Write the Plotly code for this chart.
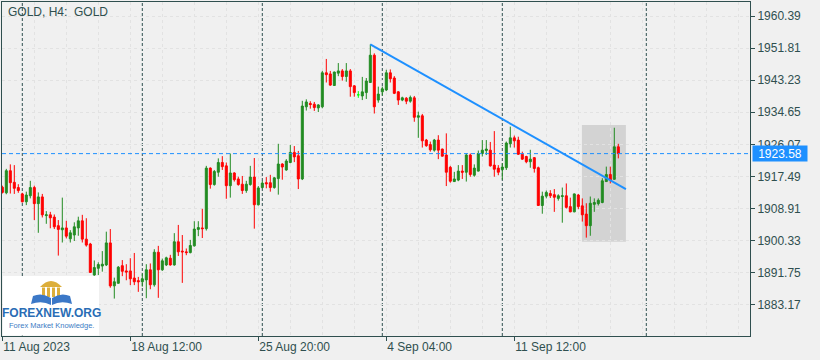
import plotly.graph_objects as go
import numpy as np

# ---- data (GOLD H4) ----
open_ = [1914.6, 1913.1, 1919.0, 1915.9, 1914.5, 1912.8, 1910.7, 1912.3, 1914.5, 1910.2,
         1912.0, 1907.0, 1907.2, 1906.6, 1904.3, 1903.2, 1903.7, 1900.8, 1901.8, 1903.7,
         1905.6, 1900.7, 1899.4, 1891.1, 1892.9, 1893.5, 1893.8, 1899.7, 1888.2, 1888.9,
         1893.6, 1892.2, 1892.2, 1890.3, 1889.6, 1889.3, 1889.8, 1892.5, 1888.5, 1897.2,
         1892.5, 1893.8, 1895.6, 1893.8, 1900.0, 1897.5, 1897.3, 1897.1, 1898.9, 1903.3,
         1903.7, 1903.5, 1919.7, 1915.3, 1918.6, 1921.2, 1920.3, 1915.0, 1918.4, 1916.8,
         1915.4, 1913.7, 1915.3, 1917.3, 1909.9, 1914.5, 1915.8, 1915.8, 1914.5, 1916.9,
         1920.8, 1919.2, 1921.2, 1923.9, 1923.0, 1916.8, 1936.1, 1937.0, 1936.8, 1935.8,
         1936.1, 1945.2, 1944.9, 1941.8, 1945.1, 1945.7, 1944.2, 1945.7, 1941.7, 1939.3,
         1939.0, 1939.9, 1942.6, 1949.9, 1937.9, 1940.1, 1940.6, 1945.2, 1943.8, 1940.1,
         1937.9, 1938.4, 1937.6, 1938.5, 1933.3, 1933.7, 1927.2, 1926.0, 1924.5, 1927.2,
         1924.8, 1923.2, 1919.9, 1916.1, 1916.5, 1918.9, 1918.6, 1923.2, 1917.8, 1918.9,
         1923.6, 1924.4, 1924.5, 1920.5, 1919.7, 1919.3, 1919.8, 1926.2, 1927.8, 1927.2,
         1923.4, 1922.8, 1921.4, 1922.5, 1919.8, 1909.7, 1912.2, 1912.9, 1912.6, 1911.6,
         1912.1, 1912.3, 1909.4, 1908.0, 1912.5, 1909.6, 1907.4, 1904.3, 1910.0, 1910.2,
         1910.5, 1916.1, 1918.0, 1916.7, 1925.4]
high = [1915.0, 1919.5, 1920.7, 1920.5, 1915.4, 1913.1, 1913.4, 1916.3, 1915.0, 1913.2,
        1912.8, 1908.2, 1908.0, 1907.3, 1905.8, 1911.8, 1905.6, 1903.1, 1905.2, 1906.7,
        1907.2, 1906.3, 1899.7, 1895.0, 1894.5, 1897.5, 1902.7, 1903.4, 1890.4, 1893.5,
        1895.1, 1894.0, 1895.6, 1897.0, 1890.6, 1891.5, 1894.0, 1894.2, 1898.0, 1898.9,
        1895.5, 1896.0, 1896.5, 1902.3, 1904.5, 1901.8, 1898.2, 1900.5, 1905.5, 1905.5,
        1908.8, 1920.3, 1919.9, 1919.2, 1922.3, 1922.9, 1921.2, 1923.6, 1918.6, 1917.4,
        1917.6, 1916.3, 1920.3, 1922.4, 1914.9, 1916.3, 1917.3, 1917.9, 1917.3, 1926.2,
        1921.0, 1922.1, 1925.9, 1925.6, 1924.3, 1937.7, 1938.1, 1937.6, 1937.4, 1936.8,
        1945.7, 1948.9, 1945.7, 1945.5, 1947.8, 1946.2, 1947.8, 1946.2, 1941.9, 1940.3,
        1944.1, 1943.8, 1952.8, 1950.4, 1941.5, 1941.5, 1946.0, 1946.1, 1944.3, 1940.3,
        1938.8, 1938.7, 1939.1, 1939.0, 1934.8, 1934.2, 1927.5, 1926.8, 1927.5, 1928.5,
        1924.9, 1929.0, 1920.3, 1918.7, 1920.5, 1920.5, 1923.6, 1923.6, 1920.7, 1924.4,
        1927.2, 1927.2, 1926.7, 1929.6, 1920.5, 1921.0, 1926.8, 1930.8, 1928.4, 1928.1,
        1924.1, 1923.0, 1924.6, 1922.6, 1920.1, 1913.4, 1913.7, 1913.8, 1914.1, 1912.7,
        1914.5, 1915.6, 1911.8, 1912.9, 1912.8, 1911.6, 1910.3, 1912.1, 1911.6, 1911.6,
        1917.0, 1920.1, 1920.1, 1930.5, 1926.2]
low = [1912.9, 1912.7, 1912.9, 1912.8, 1913.1, 1910.5, 1909.8, 1911.6, 1905.8, 1902.4,
       1906.5, 1904.8, 1903.6, 1903.4, 1896.3, 1899.8, 1900.9, 1899.8, 1900.2, 1901.6,
       1899.8, 1898.7, 1891.7, 1890.9, 1891.1, 1892.0, 1893.5, 1887.7, 1884.8, 1888.8,
       1890.8, 1889.7, 1888.4, 1888.4, 1886.6, 1888.0, 1884.9, 1887.3, 1888.0, 1885.0,
       1892.2, 1893.5, 1893.6, 1893.6, 1896.2, 1889.0, 1896.4, 1896.9, 1898.7, 1901.5,
       1901.0, 1903.0, 1914.2, 1915.0, 1917.4, 1919.2, 1911.5, 1911.8, 1916.1, 1915.0,
       1912.8, 1913.1, 1915.0, 1903.5, 1909.7, 1914.3, 1914.3, 1913.4, 1914.2, 1912.6,
       1916.6, 1919.0, 1921.0, 1921.3, 1914.1, 1916.5, 1935.1, 1935.6, 1935.0, 1934.7,
       1935.7, 1942.6, 1941.7, 1941.7, 1944.3, 1943.1, 1942.8, 1938.8, 1938.8, 1938.5,
       1937.9, 1938.2, 1942.6, 1934.3, 1937.2, 1939.1, 1940.3, 1942.6, 1939.5, 1936.6,
       1937.6, 1936.8, 1937.2, 1932.1, 1927.8, 1925.2, 1925.4, 1924.1, 1924.1, 1922.1,
       1922.8, 1914.9, 1915.8, 1916.0, 1916.2, 1916.8, 1916.1, 1917.4, 1917.4, 1918.8,
       1922.8, 1923.2, 1920.1, 1917.4, 1917.8, 1916.6, 1919.2, 1925.2, 1925.2, 1923.2,
       1921.9, 1921.0, 1919.8, 1918.5, 1909.6, 1907.5, 1911.6, 1911.7, 1908.0, 1911.0,
       1905.1, 1908.9, 1907.9, 1907.9, 1908.7, 1905.4, 1901.1, 1901.6, 1908.0, 1909.7,
       1910.3, 1916.0, 1915.6, 1916.6, 1922.3]
close = [1913.2, 1919.0, 1915.8, 1914.3, 1913.7, 1910.7, 1912.5, 1914.5, 1910.2, 1912.0,
         1907.2, 1907.2, 1906.4, 1904.0, 1903.3, 1903.7, 1901.5, 1902.4, 1904.0, 1905.6,
         1900.7, 1899.1, 1891.8, 1893.1, 1893.9, 1894.0, 1899.7, 1888.2, 1889.3, 1893.2,
         1892.1, 1891.9, 1890.1, 1889.3, 1889.3, 1890.1, 1892.5, 1888.5, 1897.2, 1892.5,
         1894.9, 1895.7, 1893.8, 1900.0, 1897.3, 1897.3, 1897.1, 1899.0, 1903.4, 1903.8,
         1903.5, 1919.7, 1915.3, 1918.8, 1921.2, 1920.1, 1915.0, 1918.4, 1916.6, 1915.3,
         1913.7, 1915.4, 1917.3, 1909.9, 1914.4, 1915.7, 1915.5, 1914.5, 1917.1, 1920.8,
         1920.0, 1921.6, 1923.9, 1922.7, 1916.8, 1936.3, 1937.4, 1936.7, 1935.9, 1936.6,
         1945.2, 1944.7, 1941.9, 1945.4, 1945.7, 1944.2, 1945.7, 1941.5, 1939.9, 1939.3,
         1940.1, 1943.0, 1949.9, 1936.1, 1939.5, 1940.9, 1945.2, 1943.6, 1939.7, 1937.9,
         1938.5, 1937.6, 1938.6, 1933.3, 1933.7, 1927.0, 1925.7, 1924.6, 1927.2, 1924.5,
         1922.9, 1918.6, 1916.2, 1916.8, 1918.9, 1918.6, 1923.2, 1918.0, 1919.7, 1923.6,
         1924.5, 1924.8, 1920.3, 1919.4, 1918.6, 1920.0, 1926.4, 1927.8, 1927.0, 1923.4,
         1922.1, 1921.4, 1922.1, 1919.6, 1909.7, 1912.2, 1913.2, 1912.3, 1911.9, 1912.3,
         1912.3, 1909.2, 1908.0, 1912.8, 1909.4, 1907.2, 1904.3, 1910.3, 1910.5, 1911.1,
         1916.3, 1918.0, 1916.5, 1925.4, 1923.58]

x_tick_bars = [0, 32, 64, 96, 128]
x_tick_labels = ["11 Aug 2023", "18 Aug 12:00", "25 Aug 20:00", "4 Sep 04:00", "11 Sep 12:00"]
y_ticks = [1960.39, 1951.81, 1943.23, 1934.65, 1926.07, 1917.49, 1908.91, 1900.33, 1891.75, 1883.17]
week_separators = [5, 35, 65, 95, 125, 161]
last_price = 1923.58
trend_bars = [92, 155.9]
trend_prices = [1952.8, 1914.1]
zone_bars = [144.9, 155.9]
zone_prices = [1900.0, 1931.2]

# ---- figure ----
W, H = 820, 360
ML, MR, MT, MB = 2, 70, 2, 24
PW, PH = W - ML - MR, H - MT - MB
AX = "#2f4f4f"
GRID = "#e2e2e2"
FONT = "Liberation Sans"

o = np.array(open_); h = np.array(high); l = np.array(low); c = np.array(close)
idx = np.arange(len(o))
doji = o == c
norm = ~doji

fig = go.Figure()
fig.add_trace(go.Candlestick(
    x=idx[norm], open=o[norm], high=h[norm], low=l[norm], close=c[norm],
    increasing=dict(line=dict(color="#228b22", width=1), fillcolor="#228b22"),
    decreasing=dict(line=dict(color="#ff0000", width=1), fillcolor="#ff0000"),
    whiskerwidth=0, hoverinfo="skip", showlegend=False))
fig.add_trace(go.Candlestick(
    x=idx[doji], open=o[doji], high=h[doji], low=l[doji], close=c[doji],
    increasing=dict(line=dict(color="#00ff00", width=1), fillcolor="#00ff00"),
    decreasing=dict(line=dict(color="#00ff00", width=1), fillcolor="#00ff00"),
    whiskerwidth=0, hoverinfo="skip", showlegend=False))


def px(x):
    return (x - ML) / PW


def py(y):
    return (MT + PH - y) / PH


shapes = []
# zone rectangle
shapes.append(dict(type="rect", xref="x", yref="y", x0=zone_bars[0], x1=zone_bars[1],
                   y0=zone_prices[0], y1=zone_prices[1], fillcolor="#d3d3d3",
                   line=dict(width=0), layer="below"))
# week separators
for s in week_separators:
    shapes.append(dict(type="line", xref="x", yref="paper", x0=s, x1=s, y0=0, y1=1,
                       line=dict(color=AX, width=1, dash="3px,2px"), layer="below"))
# bid line
shapes.append(dict(type="line", xref="paper", yref="y", x0=0, x1=1, y0=last_price, y1=last_price,
                   line=dict(color="#1e90ff", width=1, dash="4px,3px"), layer="above"))
# trend line
shapes.append(dict(type="line", xref="x", yref="y", x0=trend_bars[0], x1=trend_bars[1],
                   y0=trend_prices[0], y1=trend_prices[1],
                   line=dict(color="#1e90ff", width=2), layer="above"))

# logo watermark
shapes.append(dict(type="rect", xref="paper", yref="paper", x0=px(3), x1=px(99), y0=py(335.5), y1=py(276),
                   fillcolor="white", line=dict(width=0), layer="above"))
gold = "#dcae3a"
shapes.append(dict(type="path", xref="paper", yref="paper", layer="above", fillcolor=gold,
                   line=dict(width=0),
                   path=f"M {px(40)},{py(287)} Q {px(51)},{py(275)} {px(62)},{py(287)} Z"))
for x0 in [42, 47, 52, 57]:
    shapes.append(dict(type="rect", xref="paper", yref="paper", layer="above", fillcolor=gold,
                       line=dict(width=0), x0=px(x0), x1=px(x0 + 3), y0=py(297), y1=py(287.5)))
blue = "#3b78c7"
shapes.append(dict(type="path", xref="paper", yref="paper", layer="above", fillcolor=blue,
                   line=dict(width=0),
                   path=(f"M {px(31)},{py(304)} L {px(33)},{py(296)} Q {px(42)},{py(292)} {px(51)},{py(298)} "
                         f"L {px(51)},{py(305)} Q {px(42)},{py(300)} {px(31)},{py(304)} Z")))
shapes.append(dict(type="path", xref="paper", yref="paper", layer="above", fillcolor=blue,
                   line=dict(width=0),
                   path=(f"M {px(72)},{py(304)} L {px(70)},{py(296)} Q {px(61)},{py(292)} {px(52)},{py(298)} "
                         f"L {px(52)},{py(305)} Q {px(61)},{py(300)} {px(72)},{py(304)} Z")))

annotations = [
    dict(text="GOLD, H4:\u00a0 GOLD", xref="paper", yref="paper", x=px(6), y=py(11.5),
         xanchor="left", yanchor="middle", showarrow=False,
         font=dict(family=FONT, size=12, color=AX)),
    dict(text="1923.58", xref="paper", yref="y", x=1, y=last_price, xanchor="left", yanchor="middle",
         xshift=2, showarrow=False, bgcolor="#1e90ff", borderpad=2, width=50, height=11,
         font=dict(family=FONT, size=12, color="white")),
    dict(text="<b>FOREXNEW.ORG</b>", xref="paper", yref="paper", x=px(51), y=py(312.5),
         xanchor="center", yanchor="middle", showarrow=False,
         font=dict(family=FONT, size=12, color="#2a6db5")),
    dict(text="Forex Market Knowledge.", xref="paper", yref="paper", x=px(51), y=py(325),
         xanchor="center", yanchor="middle", showarrow=False,
         font=dict(family=FONT, size=7.5, color="#3d7cc4")),
]

x_lo = (ML - 2.3) / 4
x_hi = x_lo + PW / 4
y_hi = 1960.39 + (16 - MT) * 0.2675
y_lo = y_hi - PH * 0.2675

fig.update_layout(
    width=W, height=H, margin=dict(l=ML, r=MR, t=MT, b=MB, autoexpand=False),
    paper_bgcolor="#f0f0f0", plot_bgcolor="#f0f0f0",
    font=dict(family=FONT, size=12, color=AX),
    showlegend=False, shapes=shapes, annotations=annotations,
    boxgap=0.5, boxgroupgap=0,
    xaxis=dict(range=[x_lo, x_hi], rangeslider=dict(visible=False), automargin=False,
               tickmode="array", tickvals=x_tick_bars, ticktext=x_tick_labels,
               ticks="outside", ticklen=4, tickcolor=AX, ticklabelposition="outside right",
               showline=True, linecolor=AX, linewidth=1, mirror=True,
               showgrid=True, gridcolor=GRID, griddash="3px,3px", zeroline=False,
               minor=dict(tickmode="linear", tick0=0, dtick=8, showgrid=True,
                          gridcolor=GRID, griddash="3px,3px", ticks="")),
    yaxis=dict(range=[y_lo, y_hi], side="right", tickmode="array", tickvals=y_ticks, automargin=False,
               ticktext=[f"{v:.2f}" for v in y_ticks],
               ticks="outside", ticklen=4, tickcolor=AX,
               showline=True, linecolor=AX, linewidth=1, mirror=True,
               showgrid=True, gridcolor=GRID, griddash="3px,3px", zeroline=False),
)

fig.write_html("out.html", config={"displayModeBar": False},
               post_script="document.body.style.margin='0px';")
